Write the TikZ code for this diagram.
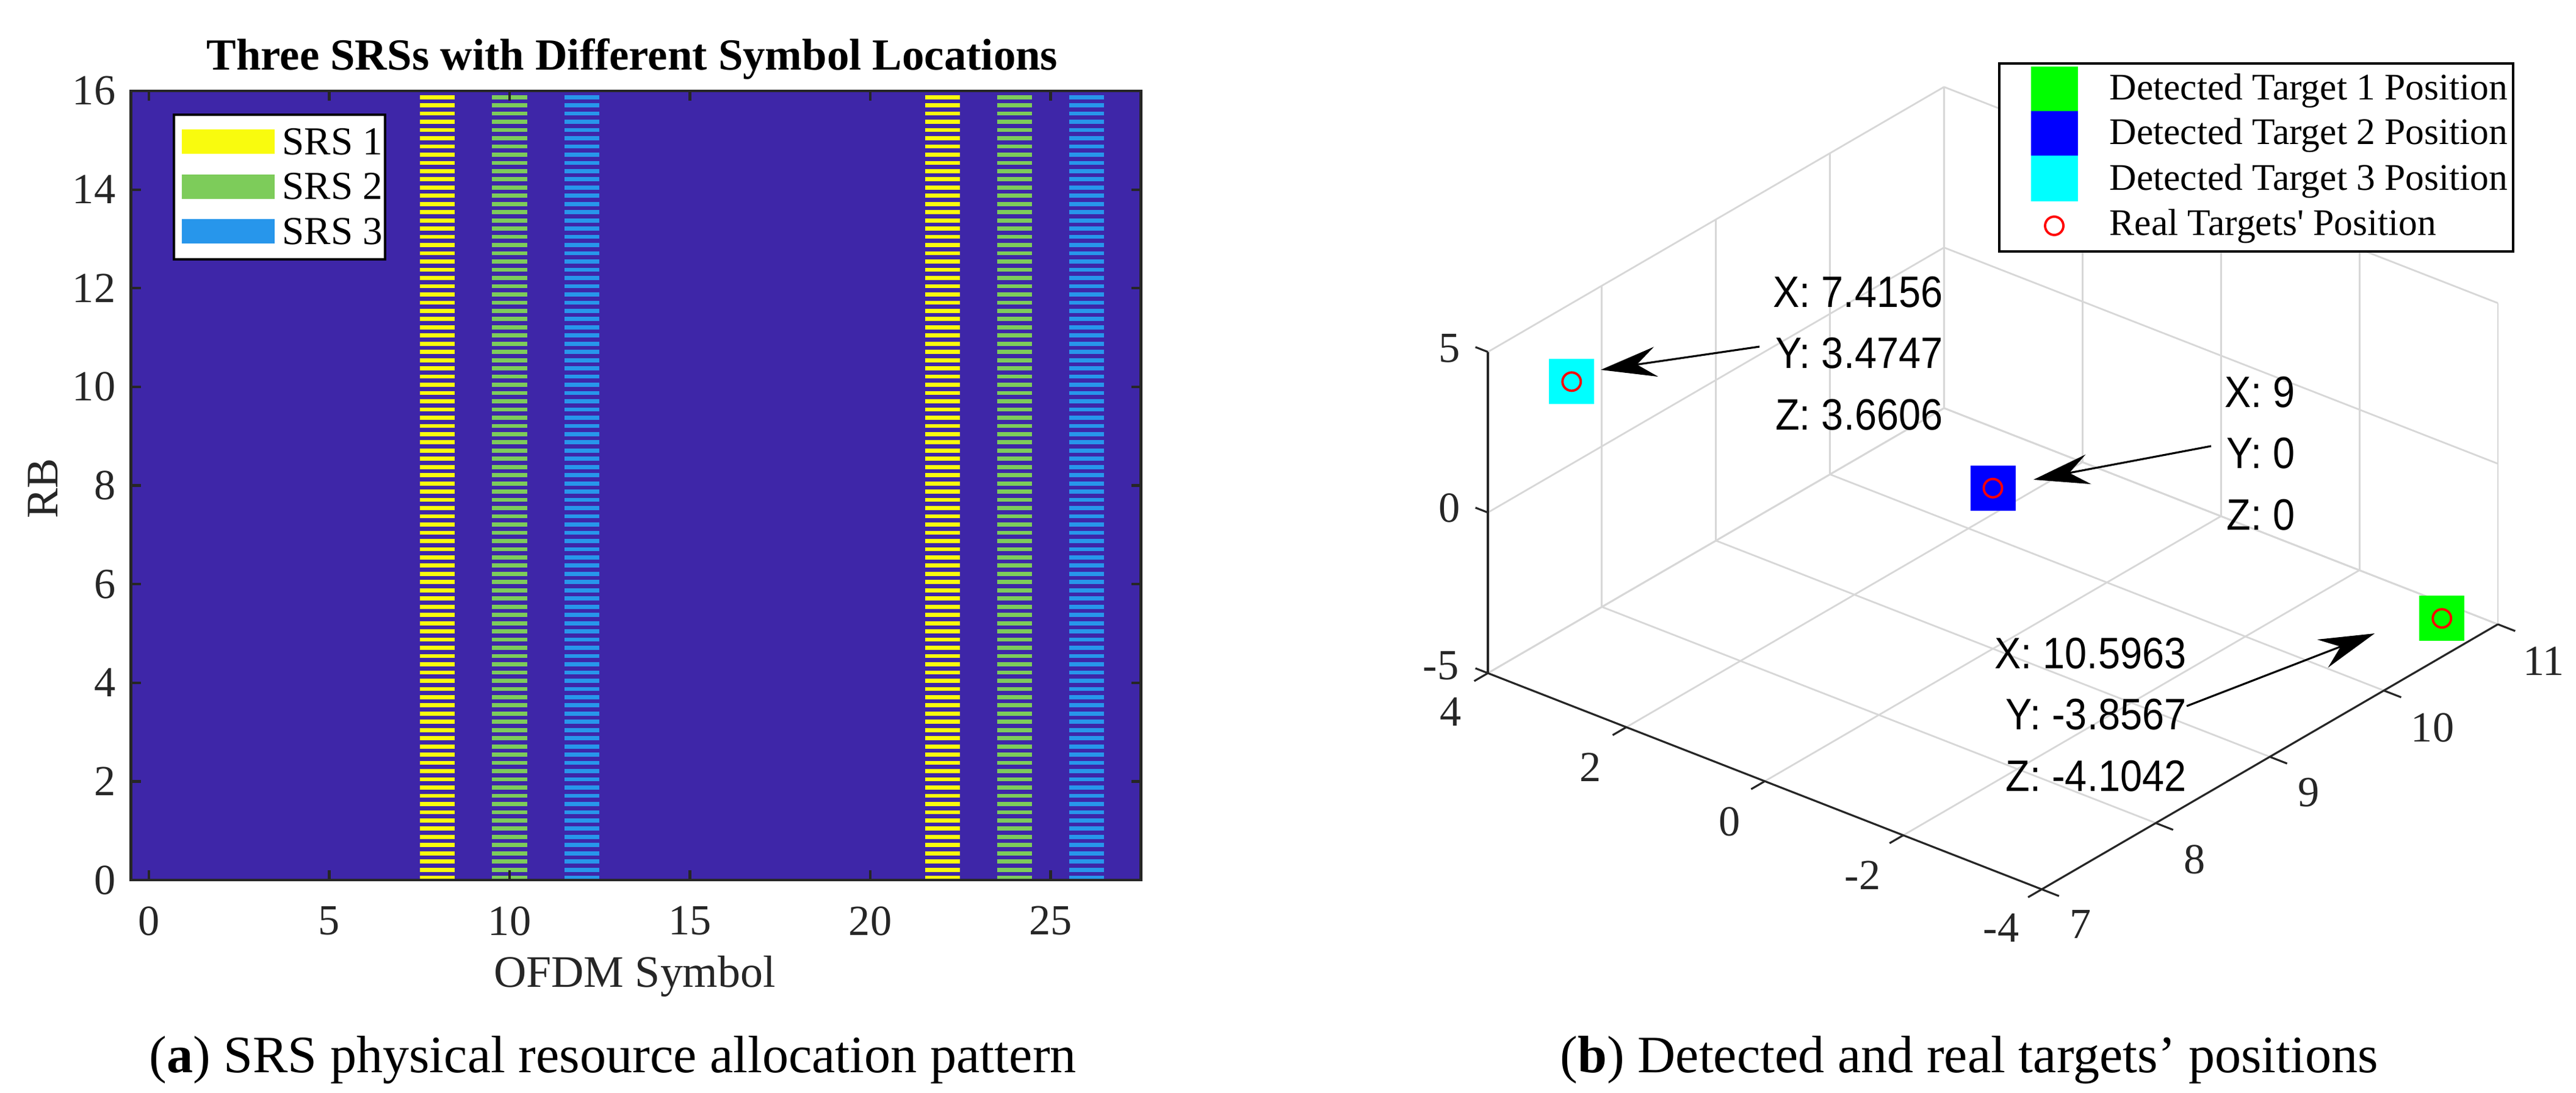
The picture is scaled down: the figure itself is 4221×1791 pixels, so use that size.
\documentclass[tikz,border=0pt]{standalone}
\usepackage{fontspec}
\setmainfont{Liberation Serif}
\newfontfamily\tipfont{Liberation Sans}
\usetikzlibrary{arrows.meta}
\definecolor{bgblue}{RGB}{62,38,168}
\definecolor{srsA}{RGB}{249,251,14}
\definecolor{srsB}{RGB}{125,204,90}
\definecolor{srsC}{RGB}{39,150,235}
\definecolor{gridgray}{RGB}{215,215,215}
\definecolor{axgray}{RGB}{38,38,38}
\definecolor{mcyan}{RGB}{0,255,255}
\definecolor{mgreen}{RGB}{0,255,0}
\definecolor{mblue}{RGB}{0,0,255}
\newcommand{\fs}[1]{\fontsize{#1}{1.2\dimexpr#1\relax}\selectfont}
\tikzset{
  tick/.style={font=\fs{20pt},text=axgray,inner sep=0pt},
  lab/.style={font=\fs{21pt},text=axgray,inner sep=0pt},
  captxt/.style={font=\fs{24.5pt},inner sep=0pt},
  tip/.style={font=\tipfont\fs{20.5pt},align=right,inner sep=0pt,xscale=0.9},
  tiparrow/.style={-{Stealth[length=26pt,width=14pt,inset=9pt]},line width=0.9pt},
  grid3/.style={gridgray,line width=0.8pt},
  ax3/.style={axgray,line width=0.9pt},
  marker/.style={minimum size=74*0.01cm,inner sep=0pt,draw=none},
  realpt/.style={circle,draw=red,line width=1.1pt,minimum size=0.3cm,inner sep=0pt},
  leg/.style={font=\fs{17.5pt},inner sep=0pt,anchor=west},
}
\begin{document}
\begin{tikzpicture}[x=0.01cm,y=-0.01cm]
\useasboundingbox (0,0) rectangle (4221,1791);
% ================= left plot =================
\fill[bgblue] (214.5,149) rectangle (1869.5,1442);
\foreach \c/\col in {8/srsA,10/srsB,12/srsC,22/srsA,24/srsB,26/srsC}{
  \foreach \k in {0,2,...,190}{
    \fill[\col] ({244+59.1*(\c-0.5)+1},{1442-6.734*(\k+1)}) rectangle ({244+59.1*(\c+0.5)-1},{1442-6.734*\k});
  }
}
\draw[axgray,line width=1.2pt] (214.5,149) rectangle (1869.5,1442);
\foreach \v in {0,5,...,25}{
  \draw[axgray,line width=1.2pt] ({244+59.1*\v},1442) -- ++(0,-16);
  \draw[axgray,line width=1.2pt] ({244+59.1*\v},149) -- ++(0,16);
  \node[tick] (xt\v) at ({244+59.1*\v},1509) {\v};
}
\foreach \v in {0,2,...,16}{
  \draw[axgray,line width=1.2pt] (214.5,{1442-80.81*\v}) -- ++(16,0);
  \draw[axgray,line width=1.2pt] (1869.5,{1442-80.81*\v}) -- ++(-16,0);
  \node[tick,anchor=east] (yt\v) at (190,{1442-80.81*\v}) {\v};
}
\node[font=\bfseries\fs{20.7pt},inner sep=0pt] (title) at (1036,97) {Three SRSs with Different Symbol Locations};
\node[lab] (xl) at (1040,1600) {OFDM Symbol};
\node[lab,rotate=90] (yl) at (70,800) {RB};
% legend
\node[draw=black,fill=white,line width=1.2pt,minimum width=346*0.01cm,minimum height=237*0.01cm,anchor=north west,inner sep=0pt] (lgA) at (283,186) {};
\foreach \i/\col/\t in {0/srsA/SRS 1,1/srsB/SRS 2,2/srsC/SRS 3}{
  \fill[\col] (298,{232+73.5*\i-20}) rectangle (450,{232+73.5*\i+20});
  \node[font=\fs{18.5pt},inner sep=0pt,anchor=west] (lgAt\i) at (462,{232+73.5*\i}) {\t};
}
\node[captxt] (capa) at (1004,1737) {(\textbf{a}) SRS physical resource allocation pattern};
% ================= right plot =================
\coordinate (O) at (2438,1103);
\begin{scope}[shift={(O)},x={(1.8675cm,1.085cm)},y={(-1.13375cm,0.4425cm)},z={(0cm,0.526cm)}]
  \foreach \a in {0,1,2,3,4}{ \draw[grid3] (\a,0,0) -- (\a,-8,0); }
  \foreach \b in {0,-2,-4,-6,-8}{ \draw[grid3] (0,\b,0) -- (4,\b,0); }
  \foreach \a in {0,1,2,3,4}{ \draw[grid3] (\a,0,0) -- (\a,0,10); }
  \foreach \c in {0,5,10}{ \draw[grid3] (0,0,\c) -- (4,0,\c); }
  \foreach \b in {0,-2,-4,-6,-8}{ \draw[grid3] (4,\b,0) -- (4,\b,10); }
  \foreach \c in {0,5,10}{ \draw[grid3] (4,0,\c) -- (4,-8,\c); }
  \draw[ax3] (0,0,0) -- (0,0,10);
  \draw[ax3] (0,0,0) -- (0,-8,0);
  \draw[ax3] (0,-8,0) -- (4,-8,0);
  \foreach \c in {0,5,10}{ \draw[ax3] (0,0,\c) -- (0,0.18,\c); }
  \foreach \b in {0,-2,-4,-6,-8}{ \draw[ax3] (0,\b,0) -- (-0.12,\b,0); }
  \foreach \a in {0,1,2,3,4}{ \draw[ax3] (\a,-8,0) -- (\a,-8.25,0); }
  \node[marker,fill=mcyan] (t3) at (0.4156,-0.5253,8.6606) {};
  \node[marker,fill=mblue] (t2) at (2,-4,5) {};
  \node[marker,fill=mgreen] (t1) at (3.5963,-7.8567,0.8958) {};
  \node[realpt] (r3) at (t3) {};
  \node[realpt] (r2) at (t2) {};
  \node[realpt] (r1) at (t1) {};
\end{scope}
\node[tick] (z5) at (2375,571) {5};
\node[tick] (z0) at (2375,832) {0};
\node[tick] (zm5) at (2361,1091) {-5};
\node[tick] (y4) at (2377,1166) {4};
\node[tick] (y2) at (2606,1257) {2};
\node[tick] (y0) at (2834,1346) {0};
\node[tick] (ym2) at (3052,1434) {-2};
\node[tick] (ym4) at (3279,1520) {-4};
\node[tick] (x7) at (3409,1514) {7};
\node[tick] (x8) at (3596,1408) {8};
\node[tick] (x9) at (3783,1299) {9};
\node[tick] (x10) at (3986,1192) {10};
\node[tick] (x11) at (4168,1083) {11};
\node[tip,anchor=north east] (d3) at (3184,452) {X: 7.4156\\[0.14cm]Y: 3.4747\\[0.14cm]Z: 3.6606};
\node[tip,anchor=north east] (d2) at (3761,616) {X: 9\\[0.14cm]Y: 0\\[0.14cm]Z: 0};
\node[tip,anchor=north east] (d1) at (3583,1044) {X: 10.5963\\[0.14cm]Y: -3.8567\\[0.14cm]Z: -4.1042};
\coordinate (a3s) at (2883,568); \coordinate (a3e) at (2623,606);
\coordinate (a2s) at (3623,731); \coordinate (a2e) at (3332,786);
\coordinate (a1s) at (3583,1157); \coordinate (a1e) at (3891,1038);
\draw[tiparrow] (a3s) -- (a3e);
\draw[tiparrow] (a2s) -- (a2e);
\draw[tiparrow] (a1s) -- (a1e);
\node[draw=black,fill=white,line width=1.2pt,minimum width=842*0.01cm,minimum height=308*0.01cm,anchor=north west,inner sep=0pt] (lgB) at (3274,102) {};
\fill[mgreen] (3328,109) rectangle (3405,182);
\fill[mblue] (3328,182) rectangle (3405,255);
\fill[mcyan] (3328,255) rectangle (3405,330);
\node[realpt] (lgr) at (3366,370) {};
\node[leg] (l1) at (3456,149) {Detected Target 1 Position};
\node[leg] (l2) at (3456,222) {Detected Target 2 Position};
\node[leg] (l3) at (3456,297) {Detected Target 3 Position};
\node[leg] (l4) at (3456,371) {Real Targets\textquotesingle\ Position};
\node[captxt] (capb) at (3227,1737) {(\textbf{b}) Detected and real targets’ positions};
\end{tikzpicture}
\end{document}
